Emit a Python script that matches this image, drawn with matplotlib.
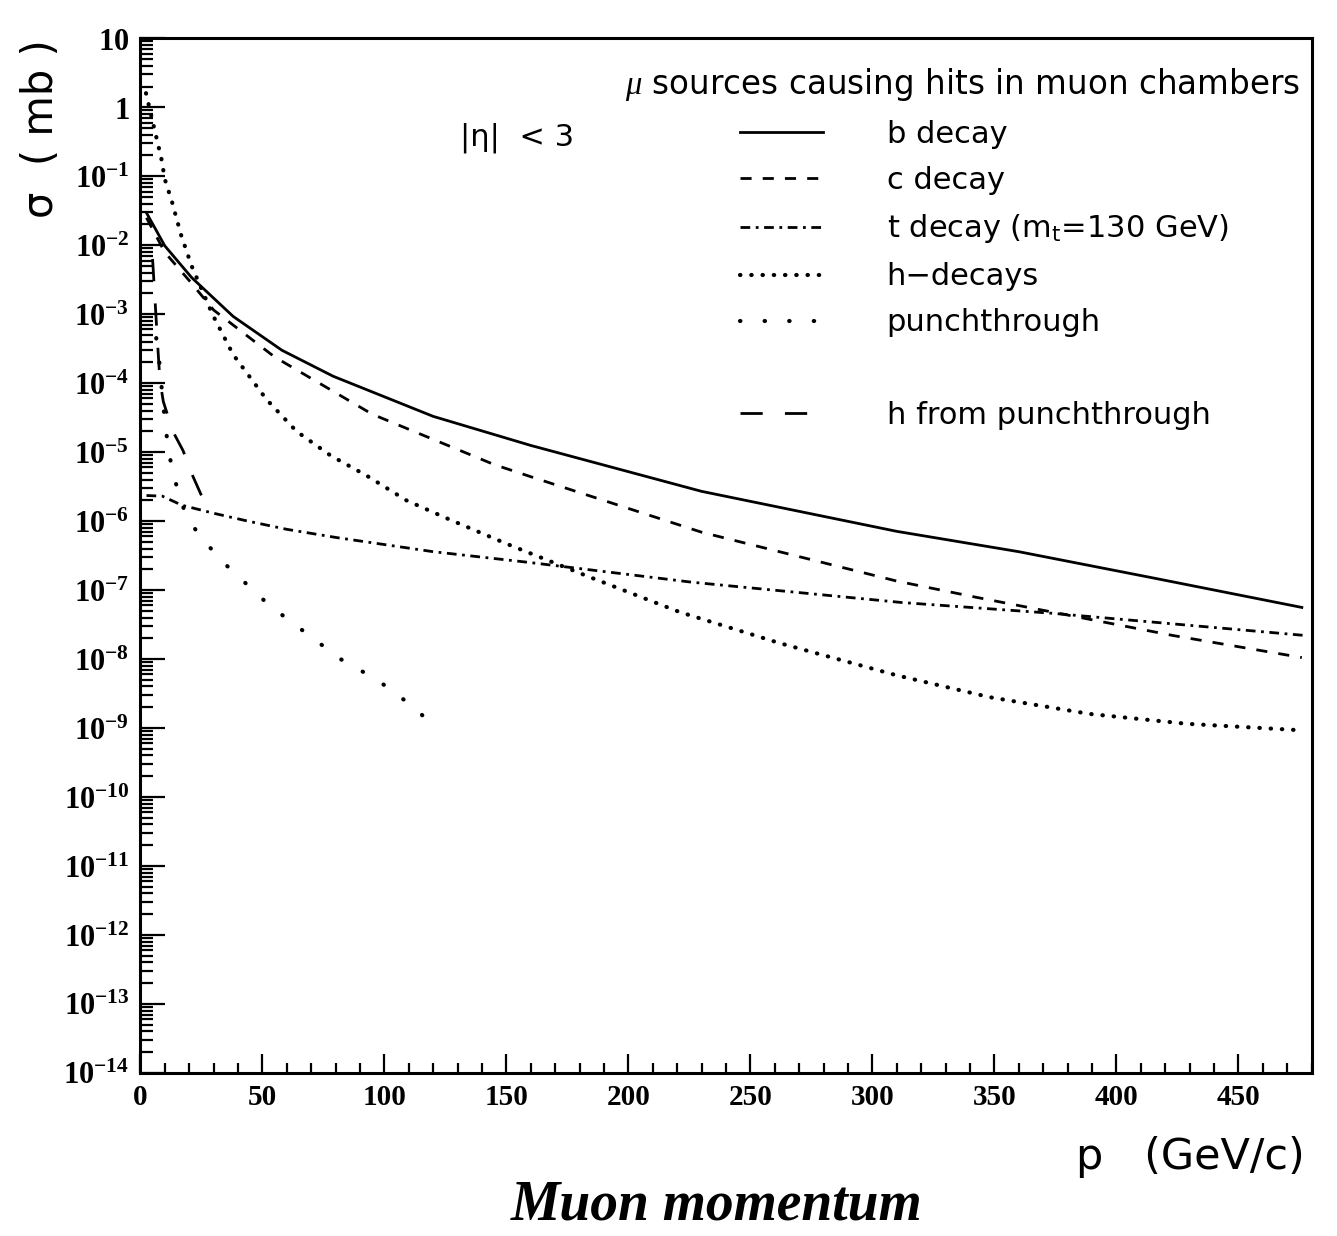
import numpy as np
import matplotlib
matplotlib.use("Agg")
import matplotlib.pyplot as plt
from matplotlib.lines import Line2D
from matplotlib.ticker import FixedLocator, LogLocator, MultipleLocator, NullFormatter

plt.rcParams["mathtext.fontset"] = "custom"
plt.rcParams["mathtext.rm"] = "Liberation Serif"
plt.rcParams["mathtext.bf"] = "Liberation Serif:bold"
plt.rcParams["mathtext.it"] = "Liberation Serif:italic"
plt.rcParams["mathtext.sf"] = "DejaVu Sans"

# values: p in GeV/c, sigma in mb
p_b = [2.5, 10, 21, 38, 58, 79, 120, 160, 230, 310, 360, 415, 476]
sig_b = [2.95e-2, 9.8e-3, 3.4e-3, 9.3e-4, 3.0e-4, 1.26e-4, 3.3e-5, 1.25e-5,
         2.7e-6, 7.1e-7, 3.6e-7, 1.5e-7, 5.6e-8]

p_c = [2.5, 10, 21, 30, 55, 95, 145, 160, 230, 310, 343, 423, 476]
sig_c = [2.5e-2, 7.9e-3, 2.8e-3, 1.15e-3, 2.4e-4, 3.55e-5, 6.6e-6, 4.4e-6,
         6.9e-7, 1.35e-7, 7.8e-8, 2.2e-8, 1.05e-8]

p_t = [2.5, 9, 17, 30, 44, 60, 80, 120, 160, 226, 312, 374, 477]
sig_t = [2.35e-6, 2.3e-6, 1.7e-6, 1.3e-6, 1.0e-6, 7.6e-7, 5.8e-7, 3.6e-7,
         2.5e-7, 1.3e-7, 6.6e-8, 4.6e-8, 2.2e-8]

p_h = [2.3, 8.6, 10, 13, 16.7, 21, 29.5, 38, 51.7, 64, 78, 93, 109, 125.5,
       150, 183, 221, 262, 310, 348, 389, 429, 475]
sig_h = [1.6, 0.18, 9.1e-2, 4.2e-2, 1.4e-2, 5.0e-3, 1.0e-3, 2.6e-4, 5.8e-5,
         2.0e-5, 8.9e-6, 4.5e-6, 2.0e-6, 1.1e-6, 4.7e-7, 1.6e-7, 4.8e-8,
         1.7e-8, 5.8e-9, 2.8e-9, 1.6e-9, 1.15e-9, 9.3e-10]

p_pt = [6.5, 7.7, 9.4, 11.4, 13.2, 15.4, 18.1, 22.7, 28.1, 34.3, 40.9, 47.5,
        54, 82, 97, 113, 117]
sig_pt = [4.5e-4, 2.1e-4, 4.7e-5, 1.1e-5, 5.4e-6, 2.7e-6, 1.4e-6, 7.4e-7,
          4.3e-7, 2.45e-7, 1.5e-7, 8.9e-8, 5.6e-8, 1.0e-8, 5.0e-9, 1.9e-9,
          1.35e-9]

p_hpt = [5, 6, 7, 8, 9.4, 13.3, 17.5, 20.9, 24.8, 28.5]
sig_hpt = [6.3e-3, 1.6e-3, 4.0e-4, 1.1e-4, 5.4e-5, 2.0e-5, 1.05e-5, 5.0e-6,
           2.45e-6, 1.4e-6]

legend_labels = ["b decay", "c decay", r"t decay (m$_{\mathsf{t}}$=130 GeV)",
                 "h\u2212decays", "punchthrough", " ", "h from punchthrough"]
y_exp = list(range(1, -15, -1))
x_major = list(range(0, 451, 50))

fig = plt.figure(figsize=(13.37, 12.36), dpi=100)
ax = fig.add_axes([0.105, 0.132, 0.876, 0.837])

lb, = ax.plot(p_b, sig_b, color="k", lw=2.0, ls="-")
lc, = ax.plot(p_c, sig_c, color="k", lw=2.0, ls=(0, (4, 4)))
lt, = ax.plot(p_t, sig_t, color="k", lw=2.0, ls=(0, (3.5, 2, 1, 2)))
lh, = ax.plot(p_h, sig_h, color="k", lw=3.0, ls=(0, (0.1, 2.6)),
              dash_capstyle="round")
lp, = ax.plot(p_pt, sig_pt, color="k", lw=3.0, ls=(0, (0.1, 5.8)),
              dash_capstyle="round")
lhp, = ax.plot(p_hpt, sig_hpt, color="k", lw=2.0, ls=(0, (8, 8)))
blank = Line2D([], [], ls="none")

ax.set_yscale("log")
ax.set_xlim(0, 480)
ax.set_ylim(1e-14, 10)

# axis ticks
ax.yaxis.set_major_locator(FixedLocator([10.0 ** k for k in y_exp]))
ylabs = []
for k in y_exp:
    if k == 1:
        ylabs.append(r"$\mathbf{10}$")
    elif k == 0:
        ylabs.append(r"$\mathbf{1}$")
    else:
        ylabs.append(r"$\mathbf{10^{%d}}$" % k)
ax.set_yticklabels(ylabs)
ax.yaxis.set_minor_locator(LogLocator(base=10, subs=np.arange(2, 10), numticks=40))
ax.yaxis.set_minor_formatter(NullFormatter())
ax.xaxis.set_major_locator(FixedLocator(x_major))
ax.xaxis.set_minor_locator(MultipleLocator(10))
ax.set_xticklabels([str(v) for v in x_major], fontfamily="Liberation Serif",
                   fontweight="bold")

ax.tick_params(axis="both", which="both", direction="in", top=False, right=False,
               colors="k", width=1.6)
ax.tick_params(axis="y", which="major", length=18, labelsize=22, pad=8)
ax.tick_params(axis="y", which="minor", length=9)
ax.tick_params(axis="x", which="major", length=14, labelsize=21, pad=8)
ax.tick_params(axis="x", which="minor", length=7)
for s in ax.spines.values():
    s.set_linewidth(2.2)

# legend and annotations
ax.text(0.414, 0.955, r"$\mu$ sources causing hits in muon chambers",
        transform=ax.transAxes, fontsize=23.5, family="DejaVu Sans", va="center")
ax.text(0.273, 0.904, "|\u03b7|  < 3", transform=ax.transAxes, fontsize=22,
        family="DejaVu Sans", va="center")
ax.legend([lb, lc, lt, lh, lp, blank, lhp], legend_labels, loc="upper left",
          bbox_to_anchor=(0.512, 0.921), frameon=False, fontsize=22,
          handlelength=2.7, handletextpad=2.1, labelspacing=0.56,
          borderpad=0, borderaxespad=0)

fig.text(0.031, 0.896, "\u03c3  ( mb )", rotation=90, fontsize=30,
         family="DejaVu Sans", ha="center", va="center")
fig.text(0.976, 0.064, "p   (GeV/c)", fontsize=31, family="DejaVu Sans",
         ha="right", va="center")
fig.text(0.536, 0.025, "Muon momentum", fontsize=40, family="Liberation Serif",
         fontweight="bold", fontstyle="italic", ha="center", va="center")

fig.savefig("out.png", dpi=100)
